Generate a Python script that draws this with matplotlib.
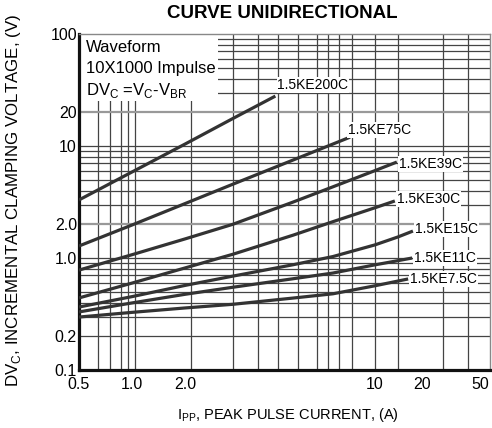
import numpy as np
import matplotlib
matplotlib.use("Agg")
import matplotlib.pyplot as plt
import matplotlib.transforms as mtransforms
from matplotlib import font_manager
from matplotlib.patches import Rectangle

###############################################################################
# Data (Ipp in A, dVc in V)

labels = ["1.5KE200C", "1.5KE75C", "1.5KE39C", "1.5KE30C",
          "1.5KE15C", "1.5KE11C", "1.5KE7.5C"]

ipp_200 = [0.5, 1.0, 2.0, 3.0, 4.3]
dvc_200 = [3.3, 5.86, 10.4, 17.6, 27.9]

ipp_75 = [0.5, 1.0, 2.0, 3.0, 5.0, 8.1]
dvc_75 = [1.28, 1.97, 3.06, 4.56, 7.5, 12.0]

ipp_39 = [0.5, 1.0, 2.0, 3.0, 5.0, 7.0, 10.0, 13.8]
dvc_39 = [0.78, 1.07, 1.48, 2.0, 3.16, 4.32, 6.03, 7.19]

ipp_30 = [0.5, 1.0, 2.0, 3.0, 5.0, 7.0, 10.0, 13.4]
dvc_30 = [0.44, 0.597, 0.815, 1.08, 1.6, 2.11, 2.81, 3.23]

ipp_15 = [0.5, 1.0, 2.0, 3.0, 5.0, 7.0, 10.0, 14.0, 17.5]
dvc_15 = [0.365, 0.452, 0.569, 0.689, 0.871, 1.03, 1.31, 1.54, 1.74]

ipp_11 = [0.5, 1.0, 2.0, 3.0, 5.0, 7.0, 10.0, 14.0, 17.3]
dvc_11 = [0.33, 0.397, 0.474, 0.548, 0.653, 0.734, 0.869, 0.946, 1.0]

ipp_75c = [0.5, 1.0, 2.0, 3.0, 5.0, 7.0, 10.0, 16.3]
dvc_75c = [0.297, 0.327, 0.358, 0.386, 0.439, 0.479, 0.565, 0.65]

curves = [(ipp_200, dvc_200), (ipp_75, dvc_75), (ipp_39, dvc_39),
          (ipp_30, dvc_30), (ipp_15, dvc_15), (ipp_11, dvc_11),
          (ipp_75c, dvc_75c)]

x_ticks = [0.5, 1.0, 2.0, 10, 20, 50]
x_ticklabels = ["0.5", "1.0", "2.0", "10", "20", "50"]
y_ticks = [0.1, 0.2, 1.0, 2.0, 10, 20, 100]
y_ticklabels = ["0.1", "0.2", "1.0", "2.0", "10", "20", "100"]

# printed grid of the datasheet (x lines are not evenly logarithmic)
grid_x = [0.64, 0.75, 0.87, 0.95, 1.04, 2.1, 3.0, 3.7, 4.4, 5.2, 6.1,
          6.7, 7.4, 8.2, 10, 14, 27, 39]
grid_y = [0.2, 0.3, 0.4, 0.5, 0.6, 0.7, 0.8, 0.9,
          1, 2, 3, 4, 5, 6, 7, 8, 9,
          10, 20, 30, 40, 50, 60, 70, 80, 90]

###############################################################################
# fonts

def have(name):
    try:
        font_manager.findfont(name, fallback_to_default=False)
        return True
    except Exception:
        return False

narrow = "Liberation Sans Narrow" if have("Liberation Sans Narrow") else "Liberation Sans"
plt.rcParams["font.family"] = ["Liberation Sans", "DejaVu Sans"]
plt.rcParams["mathtext.fontset"] = "custom"
plt.rcParams["mathtext.rm"] = "Liberation Sans"

###############################################################################
# x scale: the datasheet labels are placed piecewise-logarithmically

kx = np.log10(x_ticks)
kp = np.array([79, 132, 185, 375, 422, 485], dtype=float)


def fwd(v):
    lv = np.log10(np.clip(np.asarray(v, dtype=float), 1e-6, None))
    out = np.interp(lv, kx, kp)
    out = np.where(lv < kx[0], kp[0] + (lv - kx[0]) * (kp[1] - kp[0]) / (kx[1] - kx[0]), out)
    out = np.where(lv > kx[-1], kp[-1] + (lv - kx[-1]) * (kp[-1] - kp[-2]) / (kx[-1] - kx[-2]), out)
    return out


def inv(p):
    p = np.asarray(p, dtype=float)
    out = np.interp(p, kp, kx)
    out = np.where(p < kp[0], kx[0] + (p - kp[0]) * (kx[1] - kx[0]) / (kp[1] - kp[0]), out)
    out = np.where(p > kp[-1], kx[-1] + (p - kp[-1]) * (kx[-1] - kx[-2]) / (kp[-1] - kp[-2]), out)
    return 10 ** out


fig = plt.figure(figsize=(4.92, 4.28), dpi=100)
ax = fig.add_axes([79 / 492, 1 - 370 / 428, 411 / 492, 336 / 428])
ax.set_xscale("function", functions=(fwd, inv))
ax.set_yscale("log")
ax.set_xlim(0.5, float(inv(490)))
ax.set_ylim(0.1, 100)

# grid
for gx in grid_x:
    ax.axvline(gx, color="#444444", lw=0.9, zorder=1)
for gy in grid_y:
    if gy in (2, 20):
        ax.axhline(gy, color="#999999", lw=1.6, zorder=1)
    else:
        ax.axhline(gy, color="#444444", lw=0.9, zorder=1)

# text box covering the grid
ax.add_patch(Rectangle((0, 0.80), 0.338, 0.2, transform=ax.transAxes,
                       facecolor="white", edgecolor="none", zorder=2))
ax.text(0.017, 0.961, "Waveform", transform=ax.transAxes, fontsize=12,
        va="center", ha="left", zorder=3)
ax.text(0.017, 0.896, "10X1000 Impulse", transform=ax.transAxes, fontsize=12,
        va="center", ha="left", zorder=3)
ax.text(0.017, 0.833, r"DV$_\mathregular{C}$ =V$_\mathregular{C}$-V$_\mathregular{BR}$",
        transform=ax.transAxes, fontsize=12, va="center", ha="left", zorder=3)

# curves
offsets = [(2, 11), (-2, 7), (2, -2), (2, 2), (2, 2), (2, 0), (2, 0)]
for (xs, ys), name, off in zip(curves, labels, offsets):
    ax.plot(xs, ys, color="#333333", lw=2.3, solid_capstyle="butt", zorder=4)
    ax.annotate(name, (xs[-1], ys[-1]), xytext=off, textcoords="offset pixels",
                fontsize=10, ha="left", va="center", zorder=5,
                bbox=dict(boxstyle="square,pad=0.05", fc="white", ec="none"))

ax.set_xticks(x_ticks)
ax.set_xticklabels(x_ticklabels, fontfamily=narrow, fontsize=11.5)
ax.set_yticks(y_ticks)
ax.set_yticklabels(y_ticklabels, fontfamily=narrow, fontsize=11.5)
ax.minorticks_off()
ax.tick_params(axis="x", length=0, pad=5)
ax.tick_params(axis="y", length=0, pad=1.5)

# keep the last x label inside the picture
last = ax.get_xticklabels()[-1]
last.set_transform(last.get_transform() +
                   mtransforms.ScaledTranslation(-5 / 100, 0, fig.dpi_scale_trans))

for s in ("left", "bottom"):
    ax.spines[s].set_linewidth(2.3)
    ax.spines[s].set_color("#111111")
for s in ("top", "right"):
    ax.spines[s].set_linewidth(1.0)
    ax.spines[s].set_color("#888888")

fig.text(282 / 492, 1 - 13 / 428, "CURVE UNIDIRECTIONAL", fontfamily=narrow,
         fontweight="bold", fontsize=13.5, ha="center", va="center")
fig.text(288 / 492, 1 - 415 / 428, r"I$_\mathregular{PP}$, PEAK PULSE CURRENT, (A)",
         fontsize=10.5, ha="center", va="center")
fig.text(14 / 492, 1 - 200 / 428, r"DV$_\mathregular{C}$, INCREMENTAL CLAMPING VOLTAGE, (V)",
         fontsize=12.2, ha="center", va="center", rotation=90)

fig.savefig("out.png", dpi=100)
